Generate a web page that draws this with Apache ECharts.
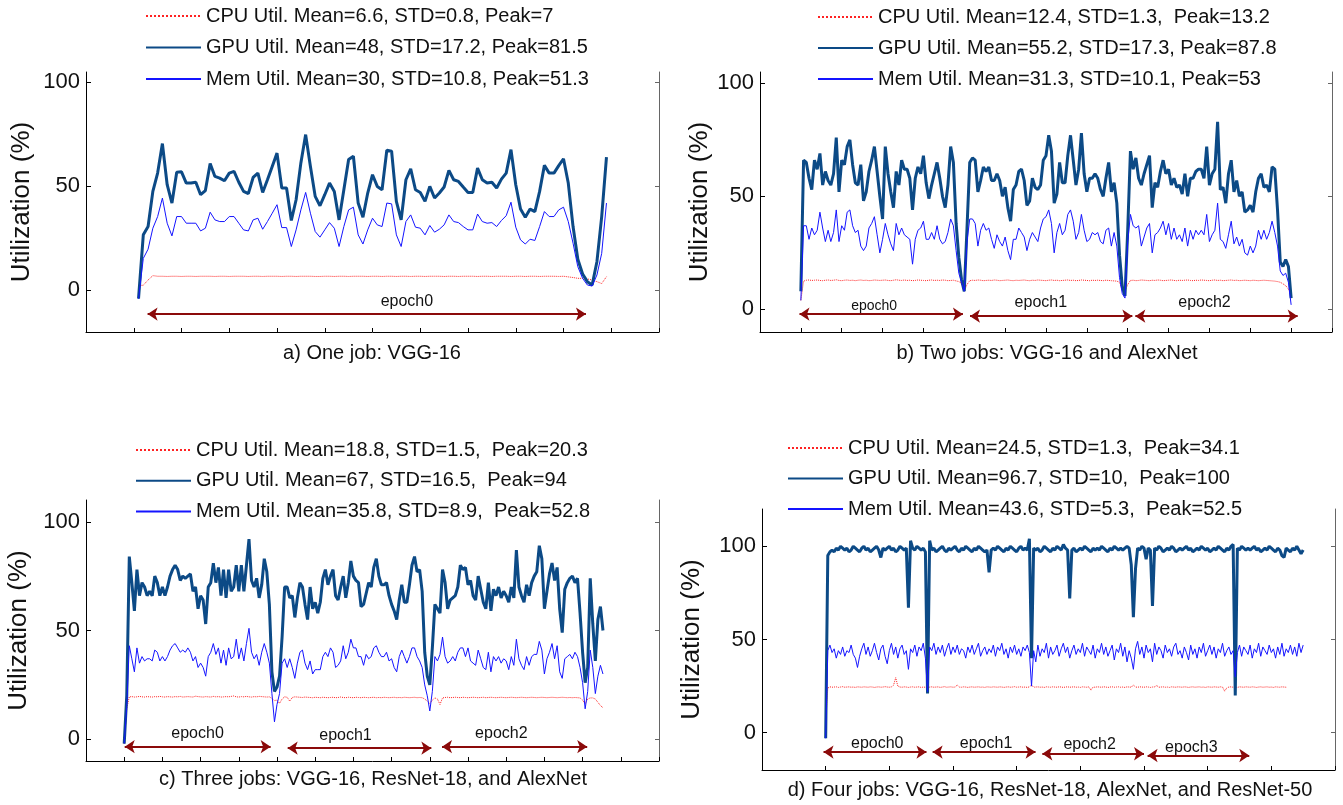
<!DOCTYPE html>
<html><head><meta charset="utf-8">
<script src="https://cdn.jsdelivr.net/npm/echarts@6/dist/echarts.min.js"></script>
<style>html,body{margin:0;padding:0;background:#fff}#c{width:1343px;height:805px}</style>
</head><body><div id="c"></div>
<script>
// ---------------- DATA ----------------
const yTicks = [0, 50, 100];
const yName = 'Utilization (%)';
const titles = ['a) One job: VGG-16', 'b) Two jobs: VGG-16 and AlexNet', 'c) Three jobs: VGG-16, ResNet-18, and AlexNet', 'd) Four jobs: VGG-16, ResNet-18, AlexNet, and ResNet-50'];

const aNames = ['CPU Util. Mean=6.6, STD=0.8, Peak=7', 'GPU Util. Mean=48, STD=17.2, Peak=81.5', 'Mem Util. Mean=30, STD=10.8, Peak=51.3'];
const bNames = ['CPU Util. Mean=12.4, STD=1.3,  Peak=13.2', 'GPU Util. Mean=55.2, STD=17.3, Peak=87.8', 'Mem Util. Mean=31.3, STD=10.1, Peak=53'];
const cNames = ['CPU Util. Mean=18.8, STD=1.5,  Peak=20.3', 'GPU Util. Mean=67, STD=16.5,  Peak=94', 'Mem Util. Mean=35.8, STD=8.9,  Peak=52.8'];
const dNames = ['CPU Util. Mean=24.5, STD=1.3,  Peak=34.1', 'GPU Util. Mean=96.7, STD=10,  Peak=100', 'Mem Util. Mean=43.6, STD=5.3,  Peak=52.5'];

// sample index of first value in each panel
const aStart = 1, bStart = 0, cStart = 0, dStart = 0;

const aCpu = [2.3,2.5,5,7.1,6.8,6.8,6.7,6.8,6.8,6.7,
6.8,6.8,6.7,6.8,6.8,6.8,6.7,6.8,6.8,6.7,
6.8,6.8,6.8,6.7,6.8,6.8,6.7,6.8,6.8,6.8,
6.7,6.8,6.8,6.7,6.8,6.8,6.8,6.7,6.7,6.8,
6.8,6.7,6.8,6.8,6.7,6.8,6.8,6.8,6.7,6.8,
6.8,6.7,6.8,6.8,6.7,6.8,6.8,6.7,6.8,6.8,
6.7,6.8,6.8,6.8,6.7,6.8,6.8,6.7,6.8,6.8,
6.8,6.7,6.8,6.8,6.7,6.8,6.8,6.8,6.7,6.8,
6.8,6.7,6.8,6.8,6.7,6.8,6.8,6.8,6.7,6.8,
6.5,6.2,5.8,5.8,5.5,5.0,4.2,3.3,6.6];
const aGpu = [-4,26.7,30.7,47.6,56.4,70.6,50.8,42,56.8,57,
51.6,51.6,52,46,48,61,54.8,54,52.7,56.4,
57.2,52,47.6,46.5,54.3,56.4,47.1,53.2,59.6,66,
49.2,49.2,33.6,43.6,61.3,74.9,59.6,45.2,40.7,46,
51.6,47.6,33.9,48.4,62.9,64.5,42,35.2,46.8,55.6,
50,48.4,67.4,66.9,42.8,33.9,53.2,58.4,48.4,47.1,
42.8,50,44.4,46.8,49.7,57.7,53.2,52.4,49.7,47.1,
47.1,58.8,53.2,51.6,52,49.2,53.5,56.4,67.7,50.8,
39.1,35.2,39.1,37.9,47.6,60.1,56.4,56.4,60,63.3,
51.6,30.7,15,7.9,4.2,2.6,13.8,35.5,64.1];
const aMem = [-4,15.4,19.8,29.9,35.5,44.4,32.3,26.2,35.5,35.5,
32.3,32.3,32.3,28.6,29.9,37.6,33.9,33.1,33.1,35.5,
35.5,32.3,29.1,28.6,33.9,34.7,29.4,33.1,37.1,41.2,
30.2,30.2,21.1,29.1,38.7,47.1,37.1,28.3,25.6,29.1,
32.6,29.9,21.1,30.7,38.7,40,26.7,22.3,29.1,34.7,
31.5,30.7,42,41.6,26.7,21.1,33.1,36.3,30.4,29.9,
26.7,31.2,28,29.4,31.5,36.3,33.1,32.6,30.7,29.1,
29.1,36.7,33.1,32.3,32.6,30.7,33.6,35.9,42.4,30.4,
24.3,22.3,24.6,24,30.7,37.9,35.5,35.5,38.7,40,
33.1,22.7,11.4,5.8,2.6,2.1,7.4,17.8,42];

const bCpu = [4,12.5,12.9,13,12.8,12.9,13,12.8,12.7,12.9,
13,12.8,12.9,13.1,12.8,12.7,12.9,13,12.8,12.9,
12.7,12.9,13,12.8,12.9,12.7,12.8,13,12.9,12.8,
12.9,13,12.8,12.7,12.9,13.1,12.9,12.8,13,12.8,
12.9,12.7,12.8,13,12.9,12.8,12.7,12.9,13,12.8,
12.9,12.8,13,12.9,12.7,12.8,12.9,12.6,12.3,11.5,
8,11,12.7,12.9,12.8,13,12.9,12.7,12.8,12.9,
12.8,13,12.9,12.7,12.8,12.9,13,12.8,12.7,12.9,
12.8,12.9,13,12.8,12.7,12.9,12.8,13,12.9,12.8,
12.7,12.9,13,12.8,12.9,12.7,12.8,12.9,13,12.8,
12.9,12.7,12.8,13,12.9,12.8,12.7,12.9,12.8,12.9,
12.8,12.7,12.9,12.8,12.7,12.6,12.5,12,9,8,
11,12.8,12.9,12.7,12.8,13,12.9,12.8,12.7,12.9,
12.8,13,12.9,12.7,12.8,12.9,13,12.8,12.7,12.9,
12.8,12.9,13,12.8,12.7,12.9,12.8,13,12.9,12.8,
12.7,12.9,13,12.8,12.9,12.7,12.8,12.9,13,12.8,
12.9,12.7,12.8,12.9,12.8,12.7,12.9,12.8,12.7,12.8,
12.9,12.8,12.7,12.6,12.5,12.3,12,11.3,10.5,9,
6];
const bGpu = [8,66,65,58,53,66,62,69,55,61,
57,55,60,76,52,66,64,72,75,64,
56,55,64,48,52,61,66,72,61,50,
40,72,60,52,45,61,55,66,62,62,
58,44,58,63,60,68,56,49,55,60,
65,58,50,45,55,72,65,38,23,13,
8,36,65,67,66,52,57,63,61,63,
57,57,60,57,50,54,45,39,53,55,
61,62,57,46,48,58,54,53,55,66,
68,77,70,47,51,65,56,56,68,77,
66,55,62,78,60,52,58,58,60,58,
53,50,58,65,52,56,47,24,10,6,
35,70,62,67,58,55,60,64,68,45,
56,54,61,66,60,62,55,58,54,55,
51,60,50,58,58,61,62,62,58,72,
55,60,62,83,53,54,47,60,66,52,
57,50,52,43,44,46,43,52,58,60,
54,55,52,63,62,44,21,19,22,19,
5];
const bMem = [4,37,37,31,36,33,35,43,36,30,
35,30,34,44,30,37,35,43,44,37,
34,35,28,26,28,36,38,41,33,25,
31,38,33,29,26,38,33,36,33,32,
31,20,31,35,36,39,31,31,34,31,
37,31,29,30,34,40,37,26,16,12,
8,30,40,40,38,28,35,38,35,36,
31,27,33,30,28,32,26,22,31,31,
36,34,32,26,31,34,32,30,36,40,
41,44,38,25,34,38,33,35,42,44,
39,31,34,42,35,30,31,34,33,34,
30,29,35,36,28,34,28,14,7,5,
30,42,37,36,37,28,32,36,38,25,
33,34,36,39,33,38,31,36,31,33,
30,36,28,35,31,35,33,35,33,42,
30,33,35,47,31,30,27,33,39,29,
32,28,31,25,24,28,25,28,35,31,
35,31,34,39,34,28,17,15,16,12,
2];

const cCpu = [-2,14,19.5,19.6,19.4,19.5,19.7,19.5,19.4,19.6,
19.5,19.4,19.6,19.5,19.7,19.5,19.4,19.6,19.5,19.4,
19.6,19.5,19.7,19.4,19.5,19.6,19.5,19.4,19.8,19.6,
19.5,19.4,19.6,19.5,19.4,19.7,19.5,19.6,19.4,19.5,
19.6,19.5,19.7,19.9,19.5,19.4,19.6,19.5,19.7,19.5,
19.4,19.6,19.5,19.7,19.6,19.5,19.4,19.5,18.8,17.8,
18,16.5,18.5,19.5,19.3,17.5,19.2,19.5,19.4,19.3,
19.2,19.4,19.3,19.2,19.1,19.3,19.2,19.1,19.3,19.2,
19.1,19.2,19.3,19.1,19.2,19.4,19.2,19.1,19.3,19.2,
19.1,19.3,19.2,19.1,19.3,19.2,19.1,19.2,19.3,19.1,
19.2,19.1,19.3,19.2,19.1,19.2,19.3,19.1,19.2,19.1,
19.3,19.2,19.1,19.2,19.3,19.1,19.2,19.1,18.5,17.5,
16.5,18,19,18.5,16,19,19.2,19.3,19.1,19.2,
19.3,19.2,19.1,19.3,19.2,19.1,19.2,19.3,19.2,19.1,
19.2,19.3,19.1,19.2,19.3,19.2,19.1,19.2,19.3,19.2,
19.1,19.2,19.3,19.2,19.1,19.2,19.3,19.2,19.1,19.2,
19.3,19.2,19.1,19.2,19.3,19.2,19.1,19.2,19.3,19.2,
19.1,19.2,19.3,19.2,19.1,19.2,19.1,19.2,19.1,19,
18,16.3,18.5,19,19,18.5,17,15.5,14.5];
const cGpu = [-2,20,84,72,59,78,66,72,70,66,
68,66,75,72,66,70,66,70,75,78,
80,78,73,75,74,75,76,68,70,60,
66,64,53,70,72,81,72,79,66,78,
65,78,68,70,80,68,80,68,80,92,
73,70,74,65,71,83,77,62,31,22,
24,29,47,70,70,65,66,56,65,72,
70,62,55,70,60,63,58,63,74,78,
71,75,78,66,64,70,75,65,72,82,
75,73,72,61,62,67,72,70,79,83,
75,71,71,72,66,62,59,55,64,71,
63,63,71,80,84,77,78,68,40,29,
25,42,62,60,58,78,72,60,64,65,
66,70,80,78,79,71,73,66,64,75,
69,63,60,72,59,69,66,70,65,68,
66,63,70,65,87,70,66,63,71,66,
72,75,77,89,83,60,68,76,81,73,
79,60,49,69,72,74,75,72,74,58,
40,26,33,74,53,36,55,61,50];
const cMem = [-2,15,43,37,31,42,35,38,36,37,
37,36,41,40,36,38,36,38,41,43,
44,42,40,41,40,42,40,36,38,33,
35,33,29,38,40,44,39,42,35,41,
34,42,37,38,46,37,42,36,44,51,
40,37,39,34,40,44,40,35,21,8,
16,21,35,37,33,37,33,28,35,40,
41,35,32,36,30,32,32,32,38,40,
38,42,40,33,34,36,43,37,40,46,
42,42,38,38,34,39,37,38,42,43,
40,38,38,40,36,37,33,31,38,41,
38,35,38,42,42,38,36,33,25,20,
13,22,38,36,39,47,38,35,36,38,
36,40,42,42,38,42,36,35,34,41,
37,33,32,40,31,38,36,38,35,37,
36,32,38,34,46,37,34,32,38,34,
38,39,39,45,41,30,37,40,44,37,
43,31,28,37,38,39,37,40,38,33,
26,14,22,41,33,21,29,34,30];

const dCpu = [5,24,24.6,24.4,24.5,24.6,24.3,24.5,24.7,24.4,
24.5,24.6,24.4,24.5,24.3,24.6,24.5,24.4,24.6,24.5,
24.4,24.6,24.5,24.3,24.5,24.6,24.4,24.5,24.7,24.5,
24.4,24.6,25.5,29.5,25,24.5,24.4,24.6,24.5,24.3,
24.5,24.6,24.4,24.5,24.6,24.3,24.5,24.4,23.5,24.5,
24.6,24.4,24.5,24.6,24.3,24.5,24.7,24.4,24.5,24.6,
24.4,24.5,25.6,24.5,24.4,24.6,24.5,24.3,24.5,24.6,
24.4,24.5,24.6,24.4,24.5,24.3,24.6,24.5,24.4,24.6,
24.5,24.4,24.6,24.5,24.3,24.5,24.6,24.4,24.5,24.7,
24.4,24.5,24.6,24.4,24.5,24.3,24.6,25.6,24.4,24.5,
24.6,24.4,24.5,24.3,24.6,24.5,24.4,24.6,24.5,24.4,
24.6,24.5,24.3,24.5,24.6,24.4,24.5,24.6,24.4,24.5,
24.3,24.6,24.5,24.4,24.6,22.8,24.5,24.4,24.6,24.5,
24.4,24.6,24.5,24.3,24.5,24.6,24.4,24.5,24.6,24.4,
24.5,24.3,24.6,24.5,24.4,25.6,24.5,24.4,24.6,24.5,
24.4,24.6,24.5,24.3,24.5,24.6,25.3,24.4,24.5,24.6,
24.4,24.5,24.3,24.6,24.5,24.4,24.6,24.5,24.4,24.6,
24.5,24.3,24.5,24.6,24.4,24.5,24.6,24.4,24.5,24.3,
24.6,24.5,24.4,24.6,24.5,24.4,24.6,24.5,22.3,24,
24.5,24.6,24.4,24.5,24.3,24.6,24.5,24.4,24.6,24.5,
24.4,24.6,24.5,24.3,24.5,24.6,24.4,24.5,24.6,24.4,
24.5,24.3,24.6,24.5,24.4,24.6,24.5,24.4];
const dGpu = [-3,95,97,98,97,99,98,100,99,98,
99,97,98,100,99,98,97,99,100,98,
99,97,98,99,100,98,94,99,98,99,
100,98,99,97,98,100,99,98,99,67,
103,99,98,100,99,98,99,97,21,103,
98,99,97,98,99,100,98,97,99,98,
99,100,98,97,99,98,100,99,98,97,
99,98,100,99,98,97,98,86,98,99,
98,100,99,98,97,99,98,100,99,98,
97,99,100,98,99,98,104,40,99,98,
99,97,98,100,99,98,97,99,98,100,
99,98,101,99,98,72,98,99,97,98,
99,98,100,99,98,97,99,98,99,98,
100,99,98,97,99,98,100,99,98,99,
98,99,100,99,90,62,88,99,98,100,
99,93,99,98,68,99,98,100,99,97,
98,99,98,100,99,97,98,99,98,99,
100,98,99,97,98,99,98,100,99,98,
99,97,98,99,98,100,99,98,97,99,
98,100,101,20,99,98,100,99,98,99,
98,99,100,98,99,97,98,99,98,100,
99,98,97,99,98,95,94,99,98,97,
99,98,100,98,96,98];
const dMem = [-3,44,47,43,45,40,44,42,46,41,
44,43,47,42,40,35,41,45,48,42,
46,41,44,48,43,39,45,47,41,37,
44,48,42,46,40,45,47,42,44,34,
45,43,47,41,46,44,48,40,22,46,
44,48,42,46,43,47,41,45,48,42,
46,43,47,42,45,44,40,46,43,47,
42,45,48,41,44,46,42,45,43,47,
41,46,44,48,42,45,40,46,43,47,
42,45,41,46,44,47,43,25,44,38,
47,41,45,43,48,40,46,42,44,47,
41,45,48,43,46,40,44,47,42,45,
43,48,41,46,44,42,47,40,45,43,
48,42,46,41,44,47,39,45,43,48,
41,46,38,44,40,34,45,49,42,46,
40,47,43,45,38,48,42,46,44,40,
47,43,45,41,46,48,42,44,40,46,
43,39,47,42,45,40,46,43,48,41,
44,47,42,46,40,45,43,48,41,44,
46,42,44,30,43,47,41,46,44,42,
47,40,45,43,48,41,46,44,42,47,
43,45,40,46,42,48,41,45,43,47,
42,46,41,48,43,47];

// epoch arrows: [startSample, endSample, yValue]; labels: [text, sample, yValue]
const aEpochs = [[2.9, 94.7, -11.4]];
const aEpochLabels = [['epoch0', 57.2, -5.6]];
const bEpochs = [[-0.5, 59.5, -2.1], [62.1, 121.7, -3.0], [122.8, 182.4, -3.0]];
const bEpochLabels = [['epoch0', 26.9, 1.5], ['epoch1', 88.1, 2.8], ['epoch2', 148.2, 2.8]];
const cEpochs = [[0.2, 57.5, -3.4], [64.2, 120.6, -4.1], [124.8, 181.8, -3.4]];
const cEpochLabels = [['epoch0', 28.8, 2.4], ['epoch1', 86.9, 1.7], ['epoch2', 148.1, 2.4]];
const dEpochs = [[-1.0, 47.5, -10.4], [50.4, 98.9, -10.4], [102.1, 150.0, -11.3], [151.7, 199.6, -12.2]];
const dEpochLabels = [['epoch0', 24.3, -5.8], ['epoch1', 75.6, -5.8], ['epoch2', 124.4, -6.6], ['epoch3', 172.3, -8.1]];

// ---------------- LAYOUT / STYLE ----------------
const FONT = "'Liberation Sans', Arial, Helvetica, sans-serif";
const layout = [
  {grid:{left:86,top:72,width:573,height:260}, yMin:-20,yMax:105, xMin:-10,xMax:110,xInt:10, nameGap:51, leg:{left:145,top:5,gap:9.5}, title:{x:372,y:353}, epFont:[16]},
  {grid:{left:760,top:72,width:572,height:260}, yMin:-10,yMax:105, xMin:-15,xMax:195,xInt:15, nameGap:47, leg:{left:817,top:6,gap:9}, title:{x:1047,y:353}, epFont:[14,16,16]},
  {grid:{left:86,top:500,width:573,height:261}, yMin:-10,yMax:110, xMin:-15,xMax:210,xInt:15, nameGap:54, leg:{left:135,top:439,gap:8.7}, title:{x:373,y:779}, epFont:[16,16,16]},
  {grid:{left:762,top:509,width:573,height:261}, yMin:-20,yMax:120, xMin:-30,xMax:240,xInt:30, nameGap:57, leg:{left:787,top:437,gap:8.5}, title:{x:1050,y:790}, epFont:[16,16,16,16]}
];
const panels = [
  {names:aNames, cpu:aCpu, gpu:aGpu, mem:aMem, start:aStart, ep:aEpochs, epl:aEpochLabels},
  {names:bNames, cpu:bCpu, gpu:bGpu, mem:bMem, start:bStart, ep:bEpochs, epl:bEpochLabels},
  {names:cNames, cpu:cCpu, gpu:cGpu, mem:cMem, start:cStart, ep:cEpochs, epl:cEpochLabels},
  {names:dNames, cpu:dCpu, gpu:dGpu, mem:dMem, start:dStart, ep:dEpochs, epl:dEpochLabels}
];
const COL_CPU = '#ff2222', COL_GPU = '#0c4a86', COL_MEM = '#1414ff', COL_ARROW = '#8b0a0a';

const grids = [], xAxes = [], yAxes = [], series = [], legends = [], graphics = [];
panels.forEach((p, i) => {
  const L = layout[i];
  grids.push(Object.assign({containLabel:false}, L.grid));
  xAxes.push({type:'value', gridIndex:i, min:L.xMin, max:L.xMax, interval:L.xInt,
    axisLine:{show:true, onZero:false, lineStyle:{color:'#000', width:1}},
    axisTick:{show:true, inside:true, length:4, lineStyle:{color:'#000'}},
    axisLabel:{show:false}, splitLine:{show:false}});
  yAxes.push({type:'value', gridIndex:i, position:'left', min:L.yMin, max:L.yMax,
    name:yName, nameLocation:'middle', nameGap:L.nameGap,
    nameTextStyle:{fontSize:26, color:'#111', fontFamily:FONT},
    axisLine:{show:true, onZero:false, lineStyle:{color:'#000', width:1}},
    axisTick:{show:true, inside:true, length:5, customValues:yTicks, lineStyle:{color:'#000'}},
    axisLabel:{show:true, customValues:yTicks, fontSize:22, color:'#111', fontFamily:FONT, margin:6},
    splitLine:{show:false}});
  yAxes.push({type:'value', gridIndex:i, position:'right', min:L.yMin, max:L.yMax,
    axisLine:{show:true, onZero:false, lineStyle:{color:'#666', width:1}},
    axisTick:{show:true, inside:true, length:4, customValues:yTicks, lineStyle:{color:'#666'}},
    axisLabel:{show:false}, splitLine:{show:false}});
  const pts = arr => arr.map((v, k) => [p.start + k, v]);
  const base = {type:'line', xAxisIndex:i, yAxisIndex:2*i, showSymbol:false, symbol:'none', animation:false, silent:true};
  series.push(Object.assign({}, base, {name:p.names[0], data:pts(p.cpu), z:2,
    lineStyle:{color:COL_CPU, width:1, type:'dotted'}, itemStyle:{color:COL_CPU},
    markLine:{silent:true, animation:false, symbol:['arrow','arrow'], symbolSize:10,
      label:{show:false}, emphasis:{disabled:true},
      lineStyle:{color:COL_ARROW, width:2, type:'solid'},
      data:p.ep.map(e => [{coord:[e[0], e[2]]}, {coord:[e[1], e[2]]}])},
    markPoint:{silent:true, animation:false, symbol:'circle', symbolSize:1,
      itemStyle:{color:'rgba(0,0,0,0)'},
      data:p.epl.map((l, k) => ({name:l[0], coord:[l[1], l[2]],
        label:{show:true, position:'inside', formatter:'{b}', color:'#111', fontSize:L.epFont[k] || 16, fontFamily:FONT}}))}
  }));
  series.push(Object.assign({}, base, {name:p.names[1], data:pts(p.gpu), z:3,
    lineStyle:{color:COL_GPU, width:3}, itemStyle:{color:COL_GPU}}));
  series.push(Object.assign({}, base, {name:p.names[2], data:pts(p.mem), z:4,
    lineStyle:{color:COL_MEM, width:1}, itemStyle:{color:COL_MEM}}));
  legends.push({orient:'vertical', left:L.leg.left, top:L.leg.top, itemGap:L.leg.gap,
    itemWidth:55, itemHeight:14, selectedMode:false, padding:0,
    itemStyle:{opacity:0, borderWidth:0},
    data:p.names, textStyle:{fontSize:20, color:'#111', fontFamily:FONT, lineHeight:22}});
  graphics.push({type:'text', x:L.title.x, y:L.title.y, silent:true,
    style:{text:titles[i], fontSize:20, fontFamily:FONT, fill:'#111', align:'center', verticalAlign:'middle'}});
});

const chart = echarts.init(document.getElementById('c'), null, {renderer:'canvas'});
chart.setOption({
  backgroundColor:'#fff', animation:false,
  grid:grids, xAxis:xAxes, yAxis:yAxes, series:series, legend:legends, graphic:graphics
});
</script></body></html>
